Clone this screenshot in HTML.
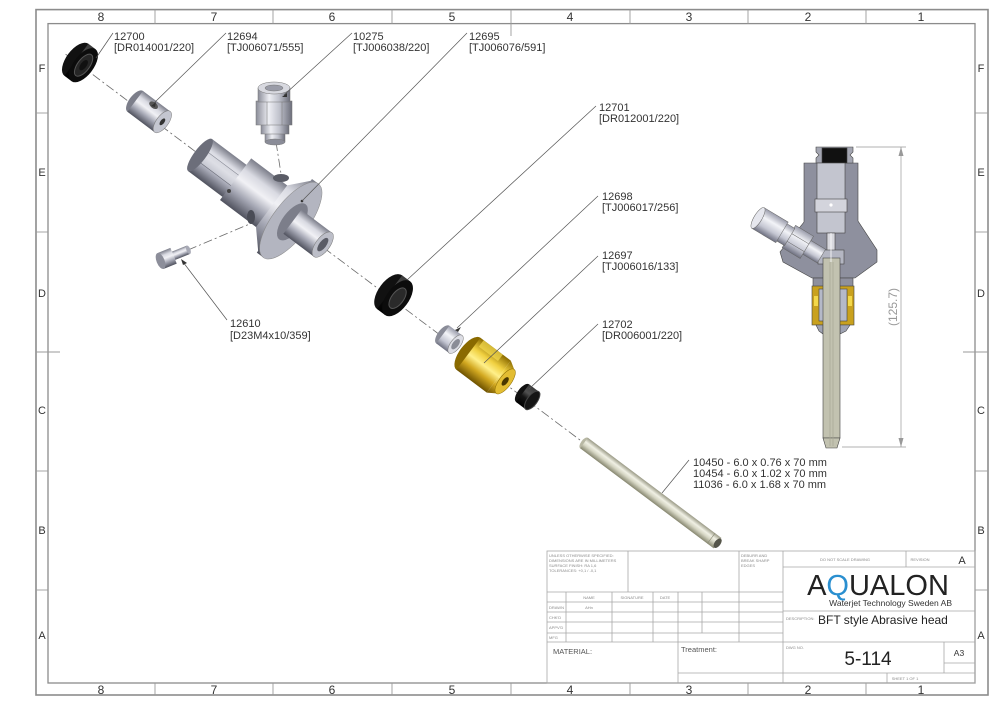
<!DOCTYPE html>
<html><head><meta charset="utf-8"><style>
html,body{margin:0;padding:0;background:#fff;}
svg{display:block;}
text{font-family:"Liberation Sans",Arial,sans-serif;}
.lbl{font-size:11px;fill:#333;}
.cl{stroke:#6a6a6a;stroke-width:0.8;stroke-dasharray:9 3 2 3;fill:none;}
.ld{stroke:#555;stroke-width:0.7;fill:none;}
.tb{stroke:#a8a8a8;stroke-width:0.8;fill:none;}
.tiny{font-size:4px;fill:#8a8a8a;}
.zn{font-size:12px;fill:#333;text-anchor:middle;}
</style></head><body>
<svg width="1000" height="707" viewBox="0 0 1000 707" xmlns="http://www.w3.org/2000/svg">
<defs>
<linearGradient id="gM" x1="0" y1="0" x2="0" y2="1">
<stop offset="0" stop-color="#7c7e8a"/><stop offset="0.25" stop-color="#d9dae2"/><stop offset="0.45" stop-color="#f1f1f5"/><stop offset="0.7" stop-color="#a6a8b5"/><stop offset="1" stop-color="#50525e"/>
</linearGradient>
<linearGradient id="gL" x1="0" y1="0" x2="0" y2="1">
<stop offset="0" stop-color="#9a9cab"/><stop offset="0.35" stop-color="#f3f4f8"/><stop offset="0.7" stop-color="#c4c6d2"/><stop offset="1" stop-color="#6e7080"/>
</linearGradient>
<linearGradient id="gB" x1="0" y1="0" x2="0" y2="1">
<stop offset="0" stop-color="#3a3a3a"/><stop offset="0.35" stop-color="#505050"/><stop offset="0.6" stop-color="#141414"/><stop offset="1" stop-color="#000"/>
</linearGradient>
<linearGradient id="gG" x1="0" y1="0" x2="0" y2="1">
<stop offset="0" stop-color="#8a6a00"/><stop offset="0.3" stop-color="#f0d040"/><stop offset="0.5" stop-color="#fff08a"/><stop offset="0.72" stop-color="#d2a820"/><stop offset="1" stop-color="#6e5200"/>
</linearGradient>
<linearGradient id="gT" x1="0" y1="0" x2="0" y2="1">
<stop offset="0" stop-color="#9a9a86"/><stop offset="0.35" stop-color="#f0f0e4"/><stop offset="0.6" stop-color="#d6d6c4"/><stop offset="1" stop-color="#86866f"/>
</linearGradient>
<linearGradient id="gV" x1="0" y1="0" x2="1" y2="0">
<stop offset="0" stop-color="#8a8c98"/><stop offset="0.35" stop-color="#eeeff4"/><stop offset="0.65" stop-color="#c0c2cc"/><stop offset="1" stop-color="#6c6e7a"/>
</linearGradient>
</defs>

<!-- Frame -->
<rect x="36" y="9.6" width="952" height="685.4" fill="none" stroke="#8c8c8c" stroke-width="1.6"/>
<rect x="48" y="23.6" width="927" height="659.4" fill="none" stroke="#8c8c8c" stroke-width="1.3"/>
<g stroke="#9a9a9a" stroke-width="0.9">
<line x1="155" y1="9.6" x2="155" y2="23.6"/><line x1="273" y1="9.6" x2="273" y2="23.6"/><line x1="392" y1="9.6" x2="392" y2="23.6"/><line x1="511" y1="9.6" x2="511" y2="36"/><line x1="630" y1="9.6" x2="630" y2="23.6"/><line x1="748" y1="9.6" x2="748" y2="23.6"/><line x1="866" y1="9.6" x2="866" y2="23.6"/>
<line x1="155" y1="683" x2="155" y2="695"/><line x1="273" y1="683" x2="273" y2="695"/><line x1="392" y1="683" x2="392" y2="695"/><line x1="511" y1="683" x2="511" y2="695"/><line x1="630" y1="683" x2="630" y2="695"/><line x1="748" y1="683" x2="748" y2="695"/><line x1="866" y1="683" x2="866" y2="695"/>
<line x1="36" y1="113" x2="48" y2="113"/><line x1="36" y1="232" x2="48" y2="232"/><line x1="36" y1="352" x2="60" y2="352"/><line x1="36" y1="471" x2="48" y2="471"/><line x1="36" y1="590" x2="48" y2="590"/>
<line x1="975" y1="113" x2="988" y2="113"/><line x1="975" y1="232" x2="988" y2="232"/><line x1="963" y1="352" x2="988" y2="352"/><line x1="975" y1="471" x2="988" y2="471"/><line x1="975" y1="590" x2="988" y2="590"/>
</g>
<g class="zn">
<text x="101" y="21" class="zn">8</text><text x="214" y="21" class="zn">7</text><text x="332" y="21" class="zn">6</text><text x="452" y="21" class="zn">5</text><text x="570" y="21" class="zn">4</text><text x="689" y="21" class="zn">3</text><text x="808" y="21" class="zn">2</text><text x="921" y="21" class="zn">1</text>
<text x="101" y="694" class="zn">8</text><text x="214" y="694" class="zn">7</text><text x="332" y="694" class="zn">6</text><text x="452" y="694" class="zn">5</text><text x="570" y="694" class="zn">4</text><text x="689" y="694" class="zn">3</text><text x="808" y="694" class="zn">2</text><text x="921" y="694" class="zn">1</text>
</g>
<g style="font-size:11px;fill:#333;text-anchor:middle">
<text x="42" y="72">F</text><text x="42" y="176">E</text><text x="42" y="297">D</text><text x="42" y="414">C</text><text x="42" y="534">B</text><text x="42" y="639">A</text>
<text x="981" y="72">F</text><text x="981" y="176">E</text><text x="981" y="297">D</text><text x="981" y="414">C</text><text x="981" y="534">B</text><text x="981" y="639">A</text>
</g>

<!-- secondary center lines -->
<line x1="276" y1="142" x2="282" y2="180" class="cl"/>
<line x1="188" y1="250" x2="252" y2="223" class="cl"/>

<!-- Exploded parts along axis -->
<g transform="translate(80,65) rotate(36.87)">
<line x1="-18" y1="0" x2="634" y2="0" class="cl"/>
<!-- 12700 -->
<ellipse cx="-6" cy="-2" rx="10" ry="20" fill="#111"/>
<rect x="-6" y="-22" width="9" height="40" fill="url(#gB)"/>
<ellipse cx="3" cy="-2" rx="10" ry="20" fill="#0c0c0c"/>
<ellipse cx="3" cy="-2" rx="6" ry="13" fill="#262626" stroke="#555" stroke-width="1"/>
<ellipse cx="3" cy="-2" rx="3" ry="6" fill="#111"/>
<!-- 12694 -->
<ellipse cx="66" cy="-4" rx="6" ry="13" fill="#7c7e8a"/>
<rect x="66" y="-17" width="34" height="26" fill="url(#gM)"/>
<ellipse cx="100" cy="-4" rx="6" ry="13" fill="#c4c6d0" stroke="#777" stroke-width="0.5"/>
<ellipse cx="100" cy="-4" rx="2" ry="4" fill="#333"/>
<ellipse cx="83" cy="-12" rx="5" ry="3" fill="#555"/>
<!-- body hex -->
<rect x="150" y="-20" width="45" height="40" fill="url(#gM)"/>
<rect x="150" y="-7" width="45" height="13" fill="#d0d2da" opacity="0.6"/>
<line x1="150" y1="-7" x2="195" y2="-7" stroke="#8a8c98" stroke-width="0.6"/>
<line x1="150" y1="6" x2="195" y2="6" stroke="#6a6c78" stroke-width="0.6"/>
<ellipse cx="150" cy="0" rx="6" ry="20" fill="#6c6e7a"/>
<!-- body cylinder -->
<rect x="193" y="-28" width="47" height="52" fill="url(#gM)"/>
<polygon points="238,-28 256,-48 256,44 238,24" fill="url(#gM)"/>
<rect x="254" y="-48" width="8" height="92" fill="url(#gM)"/>
<ellipse cx="262" cy="-2" rx="18" ry="46" fill="#b3b5c0" stroke="#888" stroke-width="0.5"/>
<ellipse cx="264" cy="-2" rx="10" ry="22" fill="#7c7e8a"/>
<rect x="264" y="-17" width="38" height="30" fill="url(#gM)"/>
<ellipse cx="302" cy="-2" rx="7" ry="15" fill="#bcbec8" stroke="#777" stroke-width="0.5"/>
<ellipse cx="302" cy="-2" rx="3.5" ry="8" fill="#5a5c66"/>
<!-- 12701 -->
<ellipse cx="384" cy="-4" rx="11" ry="21" fill="#111"/>
<rect x="384" y="-25" width="10" height="42" fill="url(#gB)"/>
<ellipse cx="394" cy="-4" rx="11" ry="21" fill="#0c0c0c"/>
<ellipse cx="394" cy="-4" rx="6" ry="12" fill="#2a2a2a" stroke="#555" stroke-width="1"/>
<!-- 12698 -->
<ellipse cx="452" cy="-2" rx="5" ry="11" fill="#8a8c98"/>
<rect x="452" y="-13" width="16" height="22" fill="url(#gL)"/>
<ellipse cx="468" cy="-2" rx="5" ry="11" fill="#dcdde4" stroke="#777" stroke-width="0.5"/>
<ellipse cx="468" cy="-2" rx="3" ry="6" fill="#8a8c96"/>
<!-- 12697 nut -->
<ellipse cx="484" cy="-2" rx="9" ry="20" fill="#8a6a00"/>
<rect x="484" y="-22" width="38" height="40" fill="url(#gG)"/>
<rect x="488" y="-22" width="24" height="8" fill="#f5dc50" opacity="0.7"/>
<polygon points="522,-22 530,-17 530,13 522,18" fill="url(#gG)"/>
<ellipse cx="530" cy="-2" rx="6" ry="15" fill="#e3bd32" stroke="#8a6a00" stroke-width="0.5"/>
<ellipse cx="530" cy="-2" rx="2.5" ry="5" fill="#4a3800"/>
<!-- 12702 -->
<ellipse cx="551" cy="-3" rx="5" ry="11" fill="#111"/>
<rect x="551" y="-14" width="12" height="22" fill="url(#gB)"/>
<ellipse cx="563" cy="-3" rx="5" ry="11" fill="#151515" stroke="#444" stroke-width="1"/>
<!-- nozzle -->
<ellipse cx="630" cy="0" rx="3" ry="6.5" fill="#b8b8a4"/>
<rect x="630" y="-6.5" width="167" height="13" fill="url(#gT)"/>
<line x1="789" y1="-6.5" x2="789" y2="6.5" stroke="#8a8a76" stroke-width="0.6"/>
<ellipse cx="797" cy="0" rx="3" ry="5.5" fill="#55554a"/>
</g>

<!-- 10275 fitting -->
<g stroke="#777" stroke-width="0.5">
<rect x="265" y="132" width="20" height="10" fill="url(#gV)"/>
<ellipse cx="275" cy="142" rx="10" ry="3" fill="#8a8c98"/>
<rect x="261" y="124" width="28" height="10" fill="url(#gV)"/>
<rect x="256" y="101" width="36" height="24" fill="url(#gV)"/>
<line x1="267" y1="101" x2="267" y2="125"/><line x1="282" y1="101" x2="282" y2="125"/>
<rect x="258" y="88" width="32" height="14" fill="url(#gV)"/>
<ellipse cx="274" cy="88" rx="16" ry="6" fill="#d8d9e0"/>
<ellipse cx="274" cy="88" rx="9" ry="3" fill="#9a9ca8"/>
</g>
<!-- body top hole & side holes -->
<ellipse cx="281" cy="178" rx="8" ry="4" fill="#5a5c66"/>
<ellipse cx="251" cy="217" rx="4" ry="7" fill="#4a4c56"/>
<circle cx="229" cy="191" r="2" fill="#444"/>
<circle cx="302" cy="201" r="1.3" fill="#333"/>

<!-- 12610 screw -->
<g transform="translate(168,258) rotate(-22)">
<rect x="6" y="-4.5" width="16" height="9" fill="url(#gM)"/>
<ellipse cx="22" cy="0" rx="2" ry="4.5" fill="#a8aab6"/>
<rect x="-8" y="-8.5" width="14" height="17" fill="url(#gM)"/>
<ellipse cx="-8" cy="0" rx="4" ry="8.5" fill="#8c8e9a"/>
</g>

<!-- Leaders -->
<g class="ld">
<line x1="113" y1="33" x2="96" y2="58"/>
<line x1="226" y1="33" x2="153" y2="104"/>
<line x1="352" y1="33" x2="284" y2="95"/>
<line x1="467" y1="33" x2="302" y2="201"/>
<line x1="596" y1="106" x2="407" y2="280"/>
<line x1="598" y1="196" x2="457" y2="328"/>
<line x1="598" y1="256" x2="484" y2="363"/>
<line x1="598" y1="324" x2="529" y2="389"/>
<line x1="227" y1="320" x2="183" y2="262"/>
<line x1="689" y1="460" x2="662" y2="493"/>
</g>
<polygon points="181,259 187,263 183,265" fill="#333"/>
<polygon points="455,330 461,327 458,332" fill="#333"/>
<polygon points="151,106 156,102 155,107" fill="#333"/>
<polygon points="282,97 287,93 287,97" fill="#333"/>

<!-- Labels -->
<g class="lbl">
<text x="114" y="40">12700</text><text x="114" y="51">[DR014001/220]</text>
<text x="227" y="40">12694</text><text x="227" y="51">[TJ006071/555]</text>
<text x="353" y="40">10275</text><text x="353" y="51">[TJ006038/220]</text>
<text x="469" y="40">12695</text><text x="469" y="51">[TJ006076/591]</text>
<text x="599" y="111">12701</text><text x="599" y="122">[DR012001/220]</text>
<text x="602" y="200">12698</text><text x="602" y="211">[TJ006017/256]</text>
<text x="602" y="259">12697</text><text x="602" y="270">[TJ006016/133]</text>
<text x="602" y="328">12702</text><text x="602" y="339">[DR006001/220]</text>
<text x="230" y="327">12610</text><text x="230" y="339">[D23M4x10/359]</text>
<text x="693" y="466">10450 - 6.0 x 0.76 x 70 mm</text>
<text x="693" y="477">10454 - 6.0 x 1.02 x 70 mm</text>
<text x="693" y="488">11036 - 6.0 x 1.68 x 70 mm</text>
</g>

<!-- Section view -->
<g stroke="#444" stroke-width="0.6">
<polygon points="804,163 858,163 858,221 877,250 877,262 855,278 812,278 783,262 780,252 804,222" fill="#8e909e"/>
<polygon points="816,147 853,147 853,152 850,155 853,158 853,163 816,163 816,158 819,155 816,152" fill="#a4a6b2"/>
<rect x="822" y="148" width="25" height="15" fill="#111"/>
<rect x="817" y="163" width="28" height="70" fill="#c3c5cf"/>
<rect x="815" y="199" width="32" height="13" fill="#d3d4dc"/>
<rect x="827" y="233" width="8" height="18" fill="#d8d8de"/>
<rect x="818" y="250" width="26" height="14" fill="#b4b6c2"/>
<rect x="813" y="278" width="40" height="9" fill="#8e909e"/>
<rect x="812" y="286" width="42" height="39" fill="#c9a11e"/>
<rect x="819" y="289" width="28" height="32" fill="#b5b9c8"/>
<polygon points="816,325 823,325 823,334 819,331" fill="#9fa3b2"/>
<polygon points="850,325 840,325 840,334 846,331" fill="#9fa3b2"/>
<rect x="823" y="258" width="17" height="180" fill="#c2c2b0"/>
<polygon points="823,438 840,438 837,448 826,448" fill="#c2c2b0"/>
</g>
<circle cx="831" cy="205" r="1.6" fill="#fff"/>
<line x1="831" y1="233" x2="831" y2="262" stroke="#fff" stroke-width="0.8"/>
<line x1="830" y1="262" x2="830" y2="446" stroke="#a6a694" stroke-width="0.7"/>
<line x1="833" y1="262" x2="833" y2="446" stroke="#a6a694" stroke-width="0.7"/>
<rect x="814" y="296" width="4" height="10" fill="#f3d84a"/>
<rect x="848" y="296" width="4" height="10" fill="#f3d84a"/>
<g transform="translate(758,218) rotate(31)" stroke="#666" stroke-width="0.5">
<rect x="56" y="-8" width="18" height="16" fill="url(#gL)"/>
<rect x="36" y="-13" width="21" height="26" fill="url(#gL)"/>
<line x1="36" y1="-4" x2="57" y2="-4"/><line x1="36" y1="5" x2="57" y2="5"/>
<rect x="27" y="-10" width="10" height="20" fill="url(#gL)"/>
<rect x="0" y="-12" width="28" height="24" fill="url(#gL)"/>
<ellipse cx="0" cy="0" rx="4" ry="12" fill="#e6e7ee"/>
</g>

<!-- Dimension -->
<g stroke="#999" stroke-width="0.7" fill="none">
<line x1="856" y1="147" x2="906" y2="147"/>
<line x1="842" y1="447" x2="906" y2="447"/>
<line x1="901" y1="147" x2="901" y2="447"/>
</g>
<polygon points="901,147 898.5,156 903.5,156" fill="#999"/>
<polygon points="901,447 898.5,438 903.5,438" fill="#999"/>
<text transform="translate(897,307) rotate(-90)" style="font-size:12px;fill:#999;text-anchor:middle">(125.7)</text>

<!-- Title block -->
<g class="tb">
<rect x="547" y="551" width="428" height="132"/>
<line x1="547" y1="592" x2="783" y2="592"/>
<line x1="547" y1="602" x2="783" y2="602"/>
<line x1="547" y1="612" x2="783" y2="612"/>
<line x1="547" y1="622" x2="783" y2="622"/>
<line x1="547" y1="633" x2="783" y2="633"/>
<line x1="547" y1="642" x2="783" y2="642"/>
<line x1="628" y1="551" x2="628" y2="592"/>
<line x1="739" y1="551" x2="739" y2="642"/>
<line x1="566" y1="592" x2="566" y2="642"/>
<line x1="612" y1="592" x2="612" y2="642"/>
<line x1="653" y1="592" x2="653" y2="642"/>
<line x1="678" y1="592" x2="678" y2="683"/>
<line x1="702" y1="592" x2="702" y2="633"/>
<line x1="678" y1="673" x2="783" y2="673"/>
<line x1="783" y1="551" x2="783" y2="683"/>
<line x1="783" y1="567" x2="975" y2="567"/>
<line x1="783" y1="611" x2="975" y2="611"/>
<line x1="783" y1="642" x2="975" y2="642"/>
<line x1="783" y1="673" x2="975" y2="673"/>
<line x1="906" y1="551" x2="906" y2="567"/>
<line x1="944" y1="642" x2="944" y2="673"/>
<line x1="944" y1="663" x2="975" y2="663"/>
<line x1="887" y1="673" x2="887" y2="683"/>
</g>
<g class="tiny">
<text x="549" y="557">UNLESS OTHERWISE SPECIFIED:</text>
<text x="549" y="562">DIMENSIONS ARE IN MILLIMETERS</text>
<text x="549" y="567">SURFACE FINISH: RA 1,6</text>
<text x="549" y="572">TOLERANCES: +0,1 / -0,1</text>
<text x="741" y="557">DEBURR AND</text>
<text x="741" y="562">BREAK SHARP</text>
<text x="741" y="567">EDGES</text>
<text x="589" y="599" text-anchor="middle">NAME</text>
<text x="632" y="599" text-anchor="middle">SIGNATURE</text>
<text x="665" y="599" text-anchor="middle">DATE</text>
<text x="549" y="609">DRAWN</text>
<text x="589" y="609" text-anchor="middle">AHn</text>
<text x="549" y="619">CHK'D</text>
<text x="549" y="629">APPV'D</text>
<text x="549" y="639">MFG</text>
<text x="845" y="561" text-anchor="middle">DO NOT SCALE DRAWING</text>
<text x="920" y="561" text-anchor="middle">REVISION</text>
<text x="786" y="620">DESCRIPTION:</text>
<text x="786" y="649">DWG NO.</text>
<text x="905" y="680" text-anchor="middle">SHEET 1 OF 1</text>
</g>
<text x="553" y="654" style="font-size:7.5px;fill:#555">MATERIAL:</text>
<text x="681" y="652" style="font-size:7.5px;fill:#555">Treatment:</text>
<text x="962" y="564" style="font-size:11px;fill:#333;text-anchor:middle">A</text>
<text x="878" y="595" style="font-size:29px;fill:#222;text-anchor:middle">A<tspan fill="#2a8fd0">Q</tspan>UALON</text>
<text x="952" y="606" style="font-size:8.5px;fill:#333;text-anchor:end">Waterjet Technology Sweden AB</text>
<text x="818" y="624" style="font-size:12px;fill:#222">BFT style Abrasive head</text>
<text x="868" y="665" style="font-size:19px;fill:#222;text-anchor:middle">5-114</text>
<text x="959" y="656" style="font-size:8.5px;fill:#333;text-anchor:middle">A3</text>
</svg>
</body></html>
